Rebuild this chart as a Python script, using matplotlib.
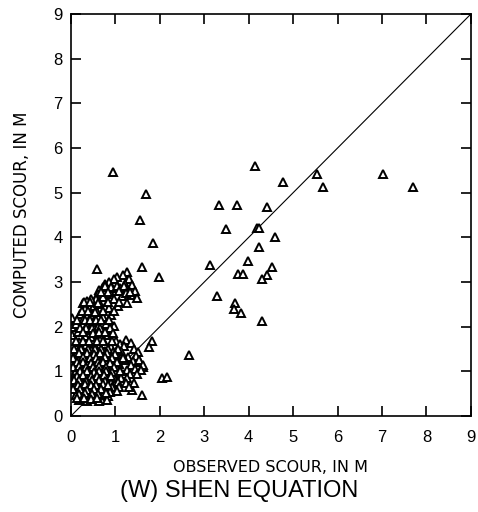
import matplotlib
matplotlib.use("Agg")
import matplotlib.pyplot as plt

# observed vs computed scour (m)
# scattered points
obs_far = [0.95, 4.14, 5.53, 7.03, 5.68, 7.70, 4.78, 1.69, 3.33, 3.74, 4.42, 1.55,
           3.50, 4.18, 4.24, 4.59, 1.84, 4.24, 3.99, 3.14, 1.59, 4.52, 3.77, 3.88,
           4.42, 4.29, 1.99, 3.29, 3.69, 3.68, 3.82, 4.29, 2.66, 1.82, 1.76, 2.04,
           2.15, 1.59, 0.58, 1.25, 1.55, 1.63, 1.37]
comp_far = [5.46, 5.60, 5.41, 5.41, 5.12, 5.12, 5.23, 4.96, 4.72, 4.72, 4.67, 4.40,
            4.19, 4.20, 4.20, 4.00, 3.88, 3.79, 3.48, 3.38, 3.34, 3.34, 3.17, 3.17,
            3.16, 3.07, 3.12, 2.69, 2.52, 2.40, 2.30, 2.13, 1.37, 1.68, 1.55, 0.84,
            0.87, 0.47, 3.29, 3.23, 1.22, 1.10, 0.58]

# dense cluster near the origin
obs_near = [1.16, 1.04, 0.96, 0.86, 0.77, 0.71, 0.64, 0.61, 1.31, 1.37, 1.21, 1.11,
            1.27, 1.43, 1.34, 1.49, 1.01, 0.92, 0.81, 0.73, 1.14, 0.96, 0.56, 0.46,
            0.36, 0.26, 0.41, 0.31, 0.51, 0.66, 0.76, 0.59, 0.86, 1.06, 0.21, 0.46,
            0.71, 0.89,
            0.02, 0.03, 0.02, 0.11, 0.16,
            0.26, 0.36, 0.49, 0.61, 0.79, 0.96, 0.41, 0.56, 0.69, 0.31, 0.46, 0.66,
            0.84, 1.01, 1.11, 1.24, 1.36, 0.19, 0.34, 0.54, 0.76, 0.91, 1.19, 1.41,
            1.51,
            0.16, 0.29, 0.46, 0.61, 0.77, 0.94, 1.13,
            0.11, 0.24, 0.41, 0.56, 0.71, 0.86, 1.04, 1.29, 1.47,
            0.17, 0.33, 0.47, 0.63, 0.81, 0.99, 1.21, 1.39, 1.54,
            0.08, 0.23, 0.37, 0.53, 0.67, 0.91, 1.09, 1.34, 1.61,
            0.14, 0.31, 0.44, 0.59, 0.74, 0.88, 1.03, 1.26, 1.44, 1.57,
            0.09, 0.26, 0.39, 0.56, 0.69, 0.84, 1.01, 1.17, 1.33, 1.49,
            0.06, 0.21, 0.34, 0.51, 0.66, 0.79, 0.96, 1.13, 1.27,
            0.12, 0.27, 0.43, 0.57, 0.73, 0.89, 1.06, 1.23, 1.41,
            0.08, 0.22, 0.37, 0.49, 0.63, 0.78, 0.93, 1.09, 1.31,
            0.16, 0.29, 0.46, 0.61, 0.74, 0.87, 1.04,
            0.11, 0.24, 0.41, 0.54, 0.71, 0.84,
            0.19, 0.36, 0.51, 0.64, 0.81]
comp_near = [3.16, 3.11, 3.06, 3.01, 2.96, 2.89, 2.83, 2.74, 3.06, 2.94, 2.96, 2.87,
             2.84, 2.79, 2.71, 2.64, 2.81, 2.86, 2.74, 2.67, 2.69, 2.61, 2.61, 2.63,
             2.57, 2.54, 2.44, 2.39, 2.46, 2.51, 2.44, 2.34, 2.41, 2.46, 2.29, 2.24,
             2.21, 2.26,
             2.20, 2.00, 1.82, 2.06, 1.89,
             2.16, 2.04, 2.11, 1.99, 2.06, 2.01, 1.93, 1.84, 1.91, 1.79, 1.76, 1.71,
             1.81, 1.69, 1.62, 1.71, 1.64, 1.66, 1.59, 1.57, 1.61, 1.54, 1.56, 1.49,
             1.44,
             1.46, 1.44, 1.47, 1.43, 1.46, 1.44, 1.46,
             1.36, 1.34, 1.36, 1.33, 1.37, 1.34, 1.36, 1.33, 1.35,
             1.26, 1.24, 1.27, 1.23, 1.26, 1.24, 1.26, 1.24, 1.25,
             1.16, 1.14, 1.17, 1.13, 1.16, 1.14, 1.16, 1.14, 1.15,
             1.06, 1.04, 1.07, 1.03, 1.06, 1.04, 1.06, 1.04, 1.05, 1.04,
             0.96, 0.94, 0.97, 0.93, 0.96, 0.94, 0.96, 0.94, 0.95, 0.94,
             0.86, 0.84, 0.87, 0.83, 0.86, 0.84, 0.86, 0.84, 0.85,
             0.76, 0.74, 0.77, 0.73, 0.76, 0.74, 0.76, 0.74, 0.75,
             0.66, 0.64, 0.67, 0.63, 0.66, 0.64, 0.66, 0.64, 0.65,
             0.56, 0.54, 0.57, 0.53, 0.56, 0.54, 0.56,
             0.46, 0.44, 0.47, 0.43, 0.46, 0.44,
             0.36, 0.34, 0.37, 0.33, 0.36]

# more overlapping points filling the dark core of the cluster
obs_core = [0.76, 0.91, 1.04, 1.19,
            0.68, 0.84, 1.08, 1.23, 1.32,
            0.29, 0.43, 0.61, 0.83, 1.09, 1.26,
            0.24, 0.39, 0.53, 0.71, 0.96,
            0.14, 0.31, 0.42, 0.56, 0.67, 0.86,
            0.21, 0.33, 0.47, 0.66, 0.88,
            0.26, 0.49, 0.63, 0.77, 0.94,
            0.12, 0.28, 0.41, 0.58, 0.73, 0.92,
            0.07, 0.22, 0.38, 0.53, 0.68, 0.84, 1.06,
            0.19, 0.36, 0.51, 0.66, 0.81, 0.99,
            0.05, 0.26, 0.42, 0.57, 0.76, 0.92, 1.16,
            0.13, 0.28, 0.44, 0.61, 0.73, 0.88, 1.04,
            0.04, 0.18, 0.34, 0.49, 0.62, 0.79, 0.97,
            0.21, 0.36, 0.51, 0.64, 0.78, 0.93, 1.11,
            0.14, 0.27, 0.44, 0.59, 0.74, 0.91,
            0.06, 0.19, 0.33, 0.48, 0.63, 0.77,
            0.16, 0.31, 0.46, 0.57, 0.71, 0.83,
            0.05, 0.21, 0.37, 0.52, 0.67,
            0.18, 0.32, 0.48, 0.61, 0.78,
            0.13, 0.29, 0.44, 0.58]
comp_core = [2.91, 2.89, 2.92, 2.90,
             2.78, 2.77, 2.79, 2.76, 2.78,
             2.55, 2.56, 2.54, 2.55, 2.56, 2.54,
             2.35, 2.36, 2.34, 2.35, 2.36,
             2.15, 2.16, 2.14, 2.15, 2.16, 2.14,
             1.97, 1.98, 1.96, 1.97, 1.98,
             1.87, 1.86, 1.88, 1.87, 1.86,
             1.68, 1.69, 1.67, 1.68, 1.69, 1.67,
             1.50, 1.51, 1.49, 1.50, 1.51, 1.49, 1.50,
             1.40, 1.41, 1.39, 1.40, 1.41, 1.39,
             1.30, 1.31, 1.29, 1.30, 1.31, 1.29, 1.30,
             1.20, 1.21, 1.19, 1.20, 1.21, 1.19, 1.20,
             1.10, 1.11, 1.09, 1.10, 1.11, 1.09, 1.10,
             1.00, 1.01, 0.99, 1.00, 1.01, 0.99, 1.00,
             0.90, 0.91, 0.89, 0.90, 0.91, 0.89,
             0.80, 0.81, 0.79, 0.80, 0.81, 0.79,
             0.70, 0.71, 0.69, 0.70, 0.71, 0.69,
             0.60, 0.61, 0.59, 0.60, 0.61,
             0.50, 0.51, 0.49, 0.50, 0.51,
             0.40, 0.41, 0.39, 0.40]

observed = obs_far + obs_near + obs_core
computed = comp_far + comp_near + comp_core
ticks = list(range(10))

fig = plt.figure(figsize=(4.78, 5.12), dpi=100)
ax = fig.add_axes([0.1485, 0.1875, 0.8365, 0.785])

ax.plot([0, 9], [0, 9], color="black", lw=0.8)
ax.plot(observed, computed, linestyle="none", marker="^", ms=6,
        mfc="white", mec="black", mew=1.4)

ax.set_xlim(0, 9)
ax.set_ylim(0, 9)
ax.set_xticks(ticks)
ax.set_yticks(ticks)
ax.tick_params(direction="in", length=7, width=1.2, top=True, right=True)
ax.tick_params(axis="x", labelsize=12, pad=10)
ax.tick_params(axis="y", labelsize=12, pad=6)
for lab in ax.get_xticklabels() + ax.get_yticklabels():
    lab.set_family("Liberation Sans")
for s in ax.spines.values():
    s.set_linewidth(1.2)

ax.set_xlabel("OBSERVED SCOUR, IN M", fontsize=11.5, labelpad=11)
ax.set_ylabel("COMPUTED SCOUR, IN M", fontsize=12, labelpad=16)
fig.text(0.5, 0.041, "(W) SHEN EQUATION", ha="center", va="center",
         fontsize=17, family="Liberation Sans")

fig.savefig("out.png", dpi=100)
